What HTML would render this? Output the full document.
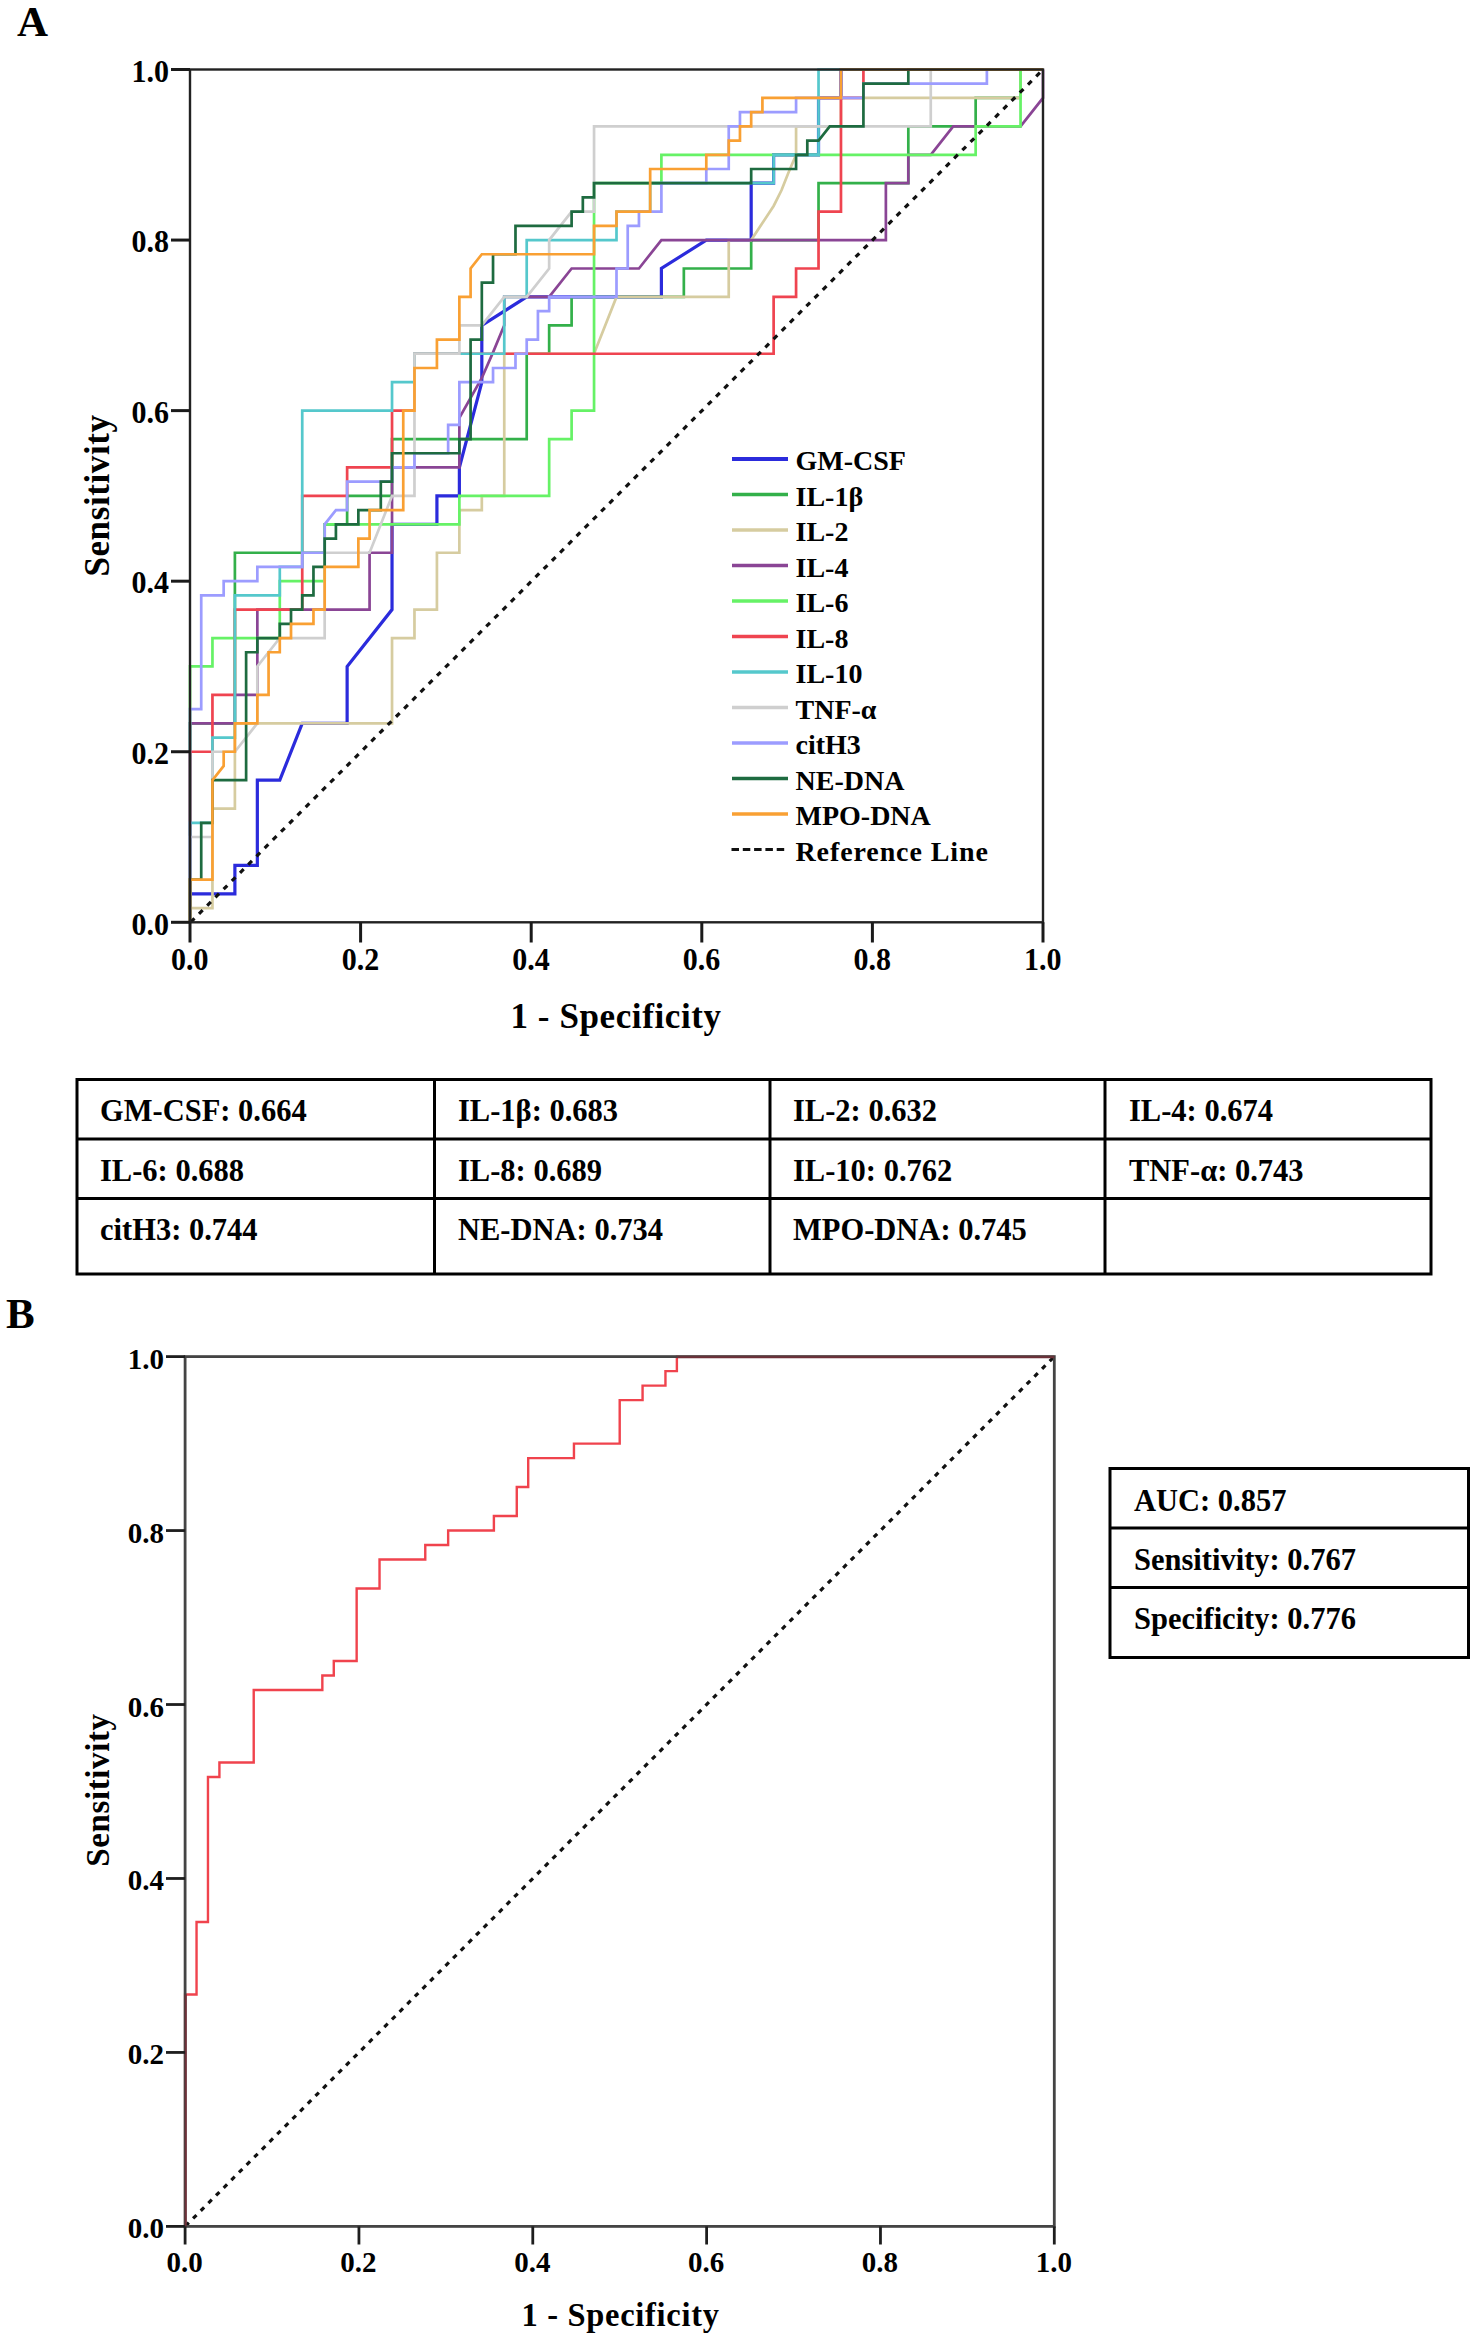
<!DOCTYPE html>
<html><head><meta charset="utf-8"><title>ROC curves</title><style>
html,body{margin:0;padding:0;background:#fff;overflow:hidden;}
svg{display:block;}
.b{font-family:"Liberation Serif", serif;font-weight:bold;fill:#000;}
</style></head><body>
<svg width="1477" height="2339" viewBox="0 0 1477 2339">
<g><rect width="1477" height="2339" fill="#fff"/>
<text transform="translate(17,36)" font-size="43" class="b">A</text>
<path d="M190,922.3 L190,893.87 L234.89,893.87 L234.89,865.45 L257.34,865.45 L257.34,780.17 L279.79,780.17 L302.24,723.31 L347.13,723.31 L347.13,666.46 L392.03,609.61 L392.03,524.33 L436.92,524.33 L436.92,495.9 L459.37,495.9 L459.37,467.47 L481.82,382.19 L481.82,325.34 L526.71,296.91 L661.39,296.91 L661.39,268.49 L706.29,240.06 L751.18,240.06 L751.18,183.21 L773.63,183.21 L773.63,154.78 L818.53,154.78 L818.53,97.93 L840.97,97.93 L840.97,69.5 L1043,69.5" fill="none" stroke="#2b2bdc" stroke-width="3.2" stroke-linejoin="miter"/>
<path d="M190,922.3 L190,723.31 L234.89,723.31 L234.89,552.75 L302.24,552.75 L324.68,552.75 L324.68,524.33 L347.13,524.33 L347.13,495.9 L392.03,495.9 L392.03,439.05 L526.71,439.05 L526.71,353.77 L549.16,353.77 L549.16,325.34 L571.61,325.34 L571.61,296.91 L683.84,296.91 L683.84,268.49 L751.18,268.49 L751.18,240.06 L818.53,240.06 L818.53,183.21 L908.32,183.21 L908.32,126.35 L975.66,126.35 L975.66,97.93 L1020.55,97.93 L1020.55,69.5 L1043,69.5" fill="none" stroke="#33b04a" stroke-width="2.7" stroke-linejoin="miter"/>
<path d="M190,922.3 L190,908.09 L212.45,908.09 L212.45,808.59 L234.89,808.59 L234.89,723.31 L392.03,723.31 L392.03,638.03 L414.47,638.03 L414.47,609.61 L436.92,609.61 L436.92,552.75 L459.37,552.75 L459.37,510.11 L481.82,510.11 L481.82,495.9 L504.26,495.9 L504.26,353.77 L594.05,353.77 L616.5,296.91 L728.74,296.91 L728.74,240.06 L751.18,240.06 L762.41,223 L773.63,205.95 L781.49,190.31 L788.22,173.26 L796.08,154.78 L796.08,126.35 L840.97,126.35 L840.97,97.93 L1020.55,97.93 L1020.55,69.5 L1043,69.5" fill="none" stroke="#d6cca0" stroke-width="2.7" stroke-linejoin="miter"/>
<path d="M190,922.3 L190,723.31 L234.89,723.31 L234.89,694.89 L257.34,694.89 L257.34,609.61 L369.58,609.61 L369.58,552.75 L392.03,552.75 L392.03,467.47 L459.37,467.47 L459.37,417.73 L481.82,377.93 L493.04,352.35 L504.26,325.34 L504.26,296.91 L549.16,296.91 L571.61,268.49 L638.95,268.49 L661.39,240.06 L885.87,240.06 L885.87,183.21 L908.32,183.21 L908.32,154.78 L930.76,154.78 L953.21,126.35 L1020.55,126.35 L1043,97.93 L1043,69.5" fill="none" stroke="#8a4595" stroke-width="2.7" stroke-linejoin="miter"/>
<path d="M190,922.3 L190,666.46 L212.45,666.46 L212.45,638.03 L279.79,638.03 L279.79,581.18 L324.68,581.18 L324.68,524.33 L459.37,524.33 L459.37,495.9 L549.16,495.9 L549.16,439.05 L571.61,439.05 L571.61,410.62 L594.05,410.62 L594.05,183.21 L661.39,183.21 L661.39,154.78 L975.66,154.78 L975.66,126.35 L1020.55,126.35 L1020.55,69.5 L1043,69.5" fill="none" stroke="#66f266" stroke-width="2.7" stroke-linejoin="miter"/>
<path d="M190,922.3 L190,751.74 L212.45,751.74 L212.45,694.89 L234.89,694.89 L234.89,609.61 L302.24,609.61 L302.24,495.9 L347.13,495.9 L347.13,467.47 L392.03,467.47 L392.03,410.62 L414.47,410.62 L414.47,353.77 L773.63,353.77 L773.63,296.91 L796.08,296.91 L796.08,268.49 L818.53,268.49 L818.53,211.63 L840.97,211.63 L840.97,97.93 L863.42,97.93 L863.42,69.5 L1043,69.5" fill="none" stroke="#ef4450" stroke-width="2.7" stroke-linejoin="miter"/>
<path d="M190,922.3 L190,822.81 L212.45,822.81 L212.45,737.53 L234.89,737.53 L234.89,595.39 L279.79,595.39 L279.79,566.97 L302.24,566.97 L302.24,410.62 L392.03,410.62 L392.03,382.19 L414.47,382.19 L414.47,353.77 L504.26,353.77 L504.26,296.91 L526.71,296.91 L526.71,240.06 L616.5,240.06 L616.5,211.63 L650.17,211.63 L650.17,183.21 L773.63,183.21 L773.63,154.78 L818.53,154.78 L818.53,69.5 L1043,69.5" fill="none" stroke="#55c8cc" stroke-width="2.7" stroke-linejoin="miter"/>
<path d="M190,922.3 L190,837.02 L212.45,837.02 L212.45,751.74 L234.89,751.74 L257.34,723.31 L257.34,666.46 L279.79,638.03 L324.68,638.03 L324.68,552.75 L369.58,552.75 L392.03,495.9 L414.47,495.9 L414.47,353.77 L459.37,353.77 L459.37,325.34 L481.82,325.34 L504.26,296.91 L526.71,296.91 L549.16,268.49 L549.16,240.06 L571.61,211.63 L594.05,211.63 L594.05,126.35 L930.76,126.35 L930.76,69.5 L1043,69.5" fill="none" stroke="#cfcfcf" stroke-width="2.7" stroke-linejoin="miter"/>
<path d="M190,922.3 L190,709.1 L201.22,709.1 L201.22,595.39 L223.67,595.39 L223.67,581.18 L257.34,581.18 L257.34,566.97 L302.24,566.97 L302.24,552.75 L324.68,552.75 L324.68,524.33 L335.91,510.11 L347.13,510.11 L347.13,481.69 L392.03,481.69 L392.03,467.47 L414.47,467.47 L414.47,453.26 L448.14,453.26 L448.14,424.83 L459.37,424.83 L459.37,382.19 L493.04,382.19 L493.04,367.98 L515.49,367.98 L515.49,353.77 L526.71,353.77 L526.71,339.55 L537.93,339.55 L537.93,311.13 L549.16,311.13 L549.16,296.91 L616.5,296.91 L616.5,268.49 L627.72,268.49 L627.72,225.85 L638.95,225.85 L638.95,211.63 L661.39,211.63 L661.39,183.21 L706.29,183.21 L706.29,168.99 L728.74,168.99 L728.74,126.35 L739.96,126.35 L739.96,112.14 L796.08,112.14 L796.08,97.93 L863.42,97.93 L863.42,83.71 L986.88,83.71 L986.88,69.5 L1043,69.5" fill="none" stroke="#9c9cff" stroke-width="2.7" stroke-linejoin="miter"/>
<path d="M190,922.3 L190,879.66 L201.22,879.66 L201.22,822.81 L212.45,822.81 L212.45,780.17 L246.12,780.17 L246.12,652.25 L257.34,652.25 L257.34,638.03 L279.79,638.03 L279.79,623.82 L291.01,623.82 L291.01,609.61 L302.24,609.61 L302.24,595.39 L313.46,595.39 L313.46,566.97 L324.68,566.97 L324.68,538.54 L335.91,538.54 L335.91,524.33 L358.36,524.33 L358.36,510.11 L380.8,510.11 L380.8,481.69 L392.03,481.69 L392.03,453.26 L459.37,453.26 L459.37,439.05 L470.59,439.05 L470.59,339.55 L481.82,339.55 L481.82,282.7 L493.04,282.7 L493.04,254.27 L515.49,254.27 L515.49,225.85 L571.61,225.85 L571.61,211.63 L582.83,211.63 L582.83,197.42 L594.05,197.42 L594.05,183.21 L751.18,183.21 L751.18,168.99 L796.08,168.99 L796.08,154.78 L807.3,154.78 L807.3,140.57 L818.53,140.57 L829.75,126.35 L863.42,126.35 L863.42,83.71 L908.32,83.71 L908.32,69.5 L1043,69.5" fill="none" stroke="#1e6b40" stroke-width="2.7" stroke-linejoin="miter"/>
<path d="M190,922.3 L190,879.66 L212.45,879.66 L212.45,780.17 L223.67,765.95 L223.67,751.74 L234.89,751.74 L234.89,723.31 L257.34,723.31 L257.34,694.89 L268.57,694.89 L268.57,652.25 L279.79,652.25 L279.79,638.03 L291.01,638.03 L291.01,623.82 L313.46,623.82 L313.46,609.61 L324.68,609.61 L324.68,566.97 L358.36,566.97 L358.36,538.54 L369.58,538.54 L369.58,510.11 L403.25,510.11 L403.25,410.62 L414.47,410.62 L414.47,367.98 L436.92,367.98 L436.92,339.55 L459.37,339.55 L459.37,296.91 L470.59,296.91 L470.59,268.49 L481.82,254.27 L594.05,254.27 L594.05,225.85 L616.5,225.85 L616.5,211.63 L650.17,211.63 L650.17,168.99 L706.29,168.99 L706.29,154.78 L728.74,154.78 L728.74,140.57 L739.96,140.57 L739.96,126.35 L751.18,126.35 L751.18,112.14 L762.41,112.14 L762.41,97.93 L840.97,97.93 L840.97,69.5 L1043,69.5" fill="none" stroke="#f9a033" stroke-width="2.7" stroke-linejoin="miter"/>
<line x1="190.0" y1="922.8" x2="1043.0" y2="69.5" stroke="#111" stroke-width="3.2" stroke-dasharray="5.2 6.41" stroke-dashoffset="-1.09"/>
<rect x="190.0" y="69.5" width="853.0" height="852.8" fill="none" stroke="#222" stroke-width="2.4"/>
<line x1="171" y1="922.3" x2="190.0" y2="922.3" stroke="#1a1a1a" stroke-width="3"/>
<line x1="190" y1="922.3" x2="190" y2="942.5" stroke="#1a1a1a" stroke-width="3"/>
<text transform="translate(169,934.5) scale(1,1.06)" font-size="30" text-anchor="end" class="b">0.0</text>
<text transform="translate(189.8,969.8) scale(1,1.06)" font-size="30" text-anchor="middle" class="b">0.0</text>
<line x1="171" y1="751.74" x2="190.0" y2="751.74" stroke="#1a1a1a" stroke-width="3"/>
<line x1="360.6" y1="922.3" x2="360.6" y2="942.5" stroke="#1a1a1a" stroke-width="3"/>
<text transform="translate(169,763.94) scale(1,1.06)" font-size="30" text-anchor="end" class="b">0.2</text>
<text transform="translate(360.4,969.8) scale(1,1.06)" font-size="30" text-anchor="middle" class="b">0.2</text>
<line x1="171" y1="581.18" x2="190.0" y2="581.18" stroke="#1a1a1a" stroke-width="3"/>
<line x1="531.2" y1="922.3" x2="531.2" y2="942.5" stroke="#1a1a1a" stroke-width="3"/>
<text transform="translate(169,593.38) scale(1,1.06)" font-size="30" text-anchor="end" class="b">0.4</text>
<text transform="translate(531,969.8) scale(1,1.06)" font-size="30" text-anchor="middle" class="b">0.4</text>
<line x1="171" y1="410.62" x2="190.0" y2="410.62" stroke="#1a1a1a" stroke-width="3"/>
<line x1="701.8" y1="922.3" x2="701.8" y2="942.5" stroke="#1a1a1a" stroke-width="3"/>
<text transform="translate(169,422.82) scale(1,1.06)" font-size="30" text-anchor="end" class="b">0.6</text>
<text transform="translate(701.6,969.8) scale(1,1.06)" font-size="30" text-anchor="middle" class="b">0.6</text>
<line x1="171" y1="240.06" x2="190.0" y2="240.06" stroke="#1a1a1a" stroke-width="3"/>
<line x1="872.4" y1="922.3" x2="872.4" y2="942.5" stroke="#1a1a1a" stroke-width="3"/>
<text transform="translate(169,252.26) scale(1,1.06)" font-size="30" text-anchor="end" class="b">0.8</text>
<text transform="translate(872.2,969.8) scale(1,1.06)" font-size="30" text-anchor="middle" class="b">0.8</text>
<line x1="171" y1="69.5" x2="190.0" y2="69.5" stroke="#1a1a1a" stroke-width="3"/>
<line x1="1043" y1="922.3" x2="1043" y2="942.5" stroke="#1a1a1a" stroke-width="3"/>
<text transform="translate(169,81.7) scale(1,1.06)" font-size="30" text-anchor="end" class="b">1.0</text>
<text transform="translate(1042.8,969.8) scale(1,1.06)" font-size="30" text-anchor="middle" class="b">1.0</text>
<text transform="translate(616,1028)" font-size="35" text-anchor="middle" letter-spacing="0.6" class="b">1 - Specificity</text>
<text transform="translate(109,495.5) rotate(-90)" font-size="35" text-anchor="middle" letter-spacing="0.6" class="b">Sensitivity</text>
<line x1="732" y1="459" x2="788" y2="459" stroke="#2b2bdc" stroke-width="3.8000000000000003"/>
<text transform="translate(795.5,470)" font-size="28" class="b">GM-CSF</text>
<line x1="732" y1="494.5" x2="788" y2="494.5" stroke="#33b04a" stroke-width="3.3000000000000003"/>
<text transform="translate(795.5,505.5)" font-size="28" class="b">IL-1β</text>
<line x1="732" y1="530" x2="788" y2="530" stroke="#d6cca0" stroke-width="3.3000000000000003"/>
<text transform="translate(795.5,541)" font-size="28" class="b">IL-2</text>
<line x1="732" y1="565.5" x2="788" y2="565.5" stroke="#8a4595" stroke-width="3.3000000000000003"/>
<text transform="translate(795.5,576.5)" font-size="28" class="b">IL-4</text>
<line x1="732" y1="601" x2="788" y2="601" stroke="#66f266" stroke-width="3.3000000000000003"/>
<text transform="translate(795.5,612)" font-size="28" class="b">IL-6</text>
<line x1="732" y1="636.5" x2="788" y2="636.5" stroke="#ef4450" stroke-width="3.3000000000000003"/>
<text transform="translate(795.5,647.5)" font-size="28" class="b">IL-8</text>
<line x1="732" y1="672" x2="788" y2="672" stroke="#55c8cc" stroke-width="3.3000000000000003"/>
<text transform="translate(795.5,683)" font-size="28" class="b">IL-10</text>
<line x1="732" y1="707.5" x2="788" y2="707.5" stroke="#cfcfcf" stroke-width="3.3000000000000003"/>
<text transform="translate(795.5,718.5)" font-size="28" class="b">TNF-α</text>
<line x1="732" y1="743" x2="788" y2="743" stroke="#9c9cff" stroke-width="3.3000000000000003"/>
<text transform="translate(795.5,754)" font-size="28" class="b">citH3</text>
<line x1="732" y1="778.5" x2="788" y2="778.5" stroke="#1e6b40" stroke-width="3.3000000000000003"/>
<text transform="translate(795.5,789.5)" font-size="28" class="b">NE-DNA</text>
<line x1="732" y1="814" x2="788" y2="814" stroke="#f9a033" stroke-width="3.3000000000000003"/>
<text transform="translate(795.5,825)" font-size="28" class="b">MPO-DNA</text>
<line x1="731.5" y1="849.5" x2="786" y2="849.5" stroke="#111" stroke-width="3" stroke-dasharray="7.5 3.8"/>
<text transform="translate(795.5,860.5)" font-size="28" letter-spacing="0.9" class="b">Reference Line</text>
<rect x="77" y="1079.5" width="1354" height="194.5" fill="none" stroke="#000" stroke-width="3"/>
<line x1="434.5" y1="1079.5" x2="434.5" y2="1274" stroke="#000" stroke-width="3"/>
<line x1="770" y1="1079.5" x2="770" y2="1274" stroke="#000" stroke-width="3"/>
<line x1="1105" y1="1079.5" x2="1105" y2="1274" stroke="#000" stroke-width="3"/>
<line x1="77" y1="1139" x2="1431" y2="1139" stroke="#000" stroke-width="3"/>
<line x1="77" y1="1198.5" x2="1431" y2="1198.5" stroke="#000" stroke-width="3"/>
<text transform="translate(100,1121)" font-size="30.5" class="b">GM-CSF: 0.664</text>
<text transform="translate(458,1121)" font-size="30.5" class="b">IL-1β: 0.683</text>
<text transform="translate(793,1121)" font-size="30.5" class="b">IL-2: 0.632</text>
<text transform="translate(1129,1121)" font-size="30.5" class="b">IL-4: 0.674</text>
<text transform="translate(100,1180.5)" font-size="30.5" class="b">IL-6: 0.688</text>
<text transform="translate(458,1180.5)" font-size="30.5" class="b">IL-8: 0.689</text>
<text transform="translate(793,1180.5)" font-size="30.5" class="b">IL-10: 0.762</text>
<text transform="translate(1129,1180.5)" font-size="30.5" class="b">TNF-α: 0.743</text>
<text transform="translate(100,1240)" font-size="30.5" class="b">citH3: 0.744</text>
<text transform="translate(458,1240)" font-size="30.5" class="b">NE-DNA: 0.734</text>
<text transform="translate(793,1240)" font-size="30.5" class="b">MPO-DNA: 0.745</text>
<text transform="translate(6,1328)" font-size="43" class="b">B</text>
<path d="M185.1,2226.4 L185.1,1994.45 L196.54,1994.45 L196.54,1921.97 L207.97,1921.97 L207.97,1777 L219.41,1777 L219.41,1762.51 L253.72,1762.51 L253.72,1690.02 L322.34,1690.02 L322.34,1675.53 L333.78,1675.53 L333.78,1661.03 L356.65,1661.03 L356.65,1588.55 L379.53,1588.55 L379.53,1559.55 L425.27,1559.55 L425.27,1545.06 L448.15,1545.06 L448.15,1530.56 L493.89,1530.56 L493.89,1516.06 L516.77,1516.06 L516.77,1487.07 L528.21,1487.07 L528.21,1458.08 L573.95,1458.08 L573.95,1443.58 L619.7,1443.58 L619.7,1400.09 L642.57,1400.09 L642.57,1385.59 L665.45,1385.59 L665.45,1371.1 L676.88,1371.1 L676.88,1356.6 L1054.3,1356.6" fill="none" stroke="#f0434d" stroke-width="2.4" stroke-linejoin="miter"/>
<line x1="185.1" y1="2226.4" x2="1054.3" y2="1356.6" stroke="#111" stroke-width="3.2" stroke-dasharray="4.8 6.02" stroke-dashoffset="-0.48"/>
<rect x="185.1" y="1356.6" width="869.2" height="869.8" fill="none" stroke="#444" stroke-width="2.8"/>
<line x1="185.7" y1="2226.4" x2="185.7" y2="1994.45" stroke="#6e3038" stroke-width="2"/>
<line x1="676.88" y1="1357.2" x2="1054.3" y2="1357.2" stroke="#6e3038" stroke-width="2"/>
<line x1="166" y1="2226.4" x2="185.1" y2="2226.4" stroke="#1e1e1e" stroke-width="2.8"/>
<line x1="185.1" y1="2226.4" x2="185.1" y2="2244.5" stroke="#1e1e1e" stroke-width="2.8"/>
<text transform="translate(164,2238.4) scale(1,1.05)" font-size="29" text-anchor="end" class="b">0.0</text>
<text transform="translate(184.6,2272) scale(1,1.05)" font-size="29" text-anchor="middle" class="b">0.0</text>
<line x1="166" y1="2052.44" x2="185.1" y2="2052.44" stroke="#1e1e1e" stroke-width="2.8"/>
<line x1="358.94" y1="2226.4" x2="358.94" y2="2244.5" stroke="#1e1e1e" stroke-width="2.8"/>
<text transform="translate(164,2064.44) scale(1,1.05)" font-size="29" text-anchor="end" class="b">0.2</text>
<text transform="translate(358.44,2272) scale(1,1.05)" font-size="29" text-anchor="middle" class="b">0.2</text>
<line x1="166" y1="1878.48" x2="185.1" y2="1878.48" stroke="#1e1e1e" stroke-width="2.8"/>
<line x1="532.78" y1="2226.4" x2="532.78" y2="2244.5" stroke="#1e1e1e" stroke-width="2.8"/>
<text transform="translate(164,1890.48) scale(1,1.05)" font-size="29" text-anchor="end" class="b">0.4</text>
<text transform="translate(532.28,2272) scale(1,1.05)" font-size="29" text-anchor="middle" class="b">0.4</text>
<line x1="166" y1="1704.52" x2="185.1" y2="1704.52" stroke="#1e1e1e" stroke-width="2.8"/>
<line x1="706.62" y1="2226.4" x2="706.62" y2="2244.5" stroke="#1e1e1e" stroke-width="2.8"/>
<text transform="translate(164,1716.52) scale(1,1.05)" font-size="29" text-anchor="end" class="b">0.6</text>
<text transform="translate(706.12,2272) scale(1,1.05)" font-size="29" text-anchor="middle" class="b">0.6</text>
<line x1="166" y1="1530.56" x2="185.1" y2="1530.56" stroke="#1e1e1e" stroke-width="2.8"/>
<line x1="880.46" y1="2226.4" x2="880.46" y2="2244.5" stroke="#1e1e1e" stroke-width="2.8"/>
<text transform="translate(164,1542.56) scale(1,1.05)" font-size="29" text-anchor="end" class="b">0.8</text>
<text transform="translate(879.96,2272) scale(1,1.05)" font-size="29" text-anchor="middle" class="b">0.8</text>
<line x1="166" y1="1356.6" x2="185.1" y2="1356.6" stroke="#1e1e1e" stroke-width="2.8"/>
<line x1="1054.3" y1="2226.4" x2="1054.3" y2="2244.5" stroke="#1e1e1e" stroke-width="2.8"/>
<text transform="translate(164,1368.6) scale(1,1.05)" font-size="29" text-anchor="end" class="b">1.0</text>
<text transform="translate(1053.8,2272) scale(1,1.05)" font-size="29" text-anchor="middle" class="b">1.0</text>
<text transform="translate(620.5,2325.5) scale(1,1.05)" font-size="32.5" text-anchor="middle" letter-spacing="0.7" class="b">1 - Specificity</text>
<text transform="translate(109,1790) rotate(-90)" font-size="33" text-anchor="middle" letter-spacing="0.6" class="b">Sensitivity</text>
<rect x="1110" y="1468.5" width="358.5" height="189.0" fill="none" stroke="#000" stroke-width="3"/>
<line x1="1110" y1="1528" x2="1468.5" y2="1528" stroke="#000" stroke-width="3"/>
<line x1="1110" y1="1587.5" x2="1468.5" y2="1587.5" stroke="#000" stroke-width="3"/>
<text transform="translate(1134,1510.5)" font-size="30.5" class="b">AUC: 0.857</text>
<text transform="translate(1134,1569.5)" font-size="30.5" class="b">Sensitivity: 0.767</text>
<text transform="translate(1134,1629)" font-size="30.5" class="b">Specificity: 0.776</text></g>
</svg></body></html>
